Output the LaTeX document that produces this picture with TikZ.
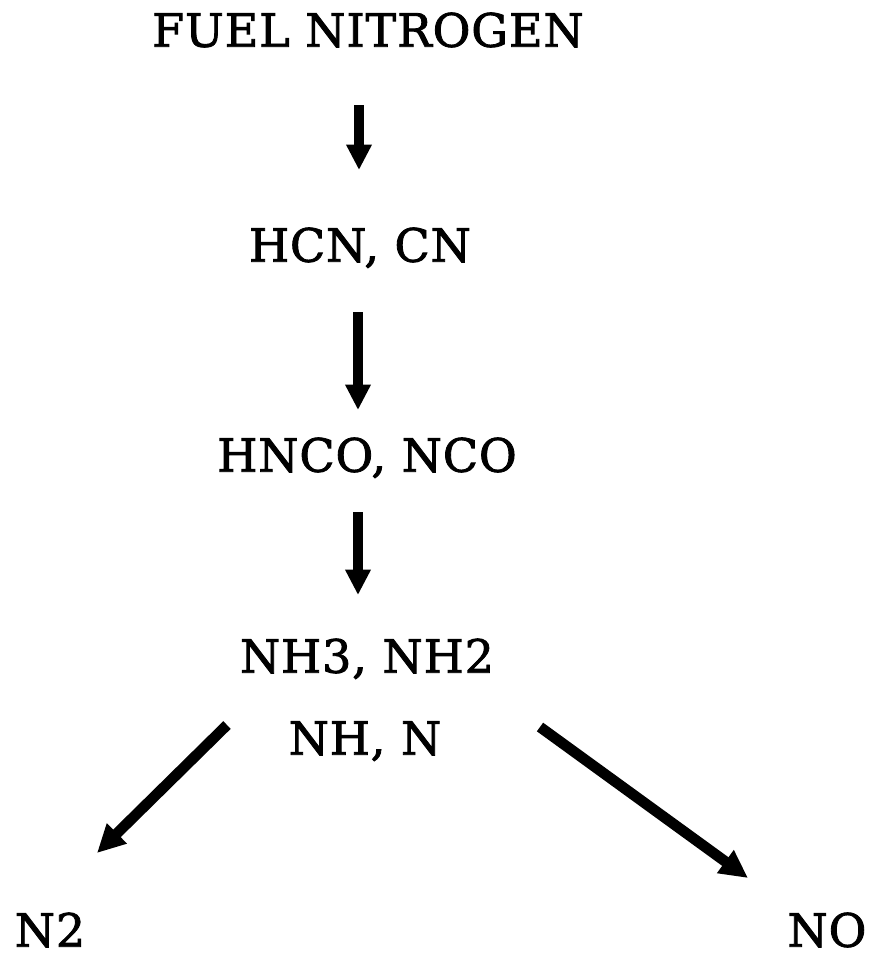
\documentclass[tikz,border=0pt]{standalone}
\usepackage{fontspec}
\setmainfont{DejaVu Serif}
\newfontfamily\lblfont{DejaVu Serif}[FakeBold=1.8,LetterSpace=2]
\usetikzlibrary{arrows.meta}
\begin{document}
\begin{tikzpicture}[x=0.75pt,y=-0.75pt,
  lbl/.style={inner sep=0pt,text height=25pt,text depth=0pt,anchor=south,font=\lblfont\fontsize{34.5}{40}\selectfont},
  arr/.style={line width=7.5pt,-{Triangle[length=19pt,width=18pt]}},
  darr/.style={line width=8pt,-{Triangle[length=21pt,width=20pt]}}]
\useasboundingbox (0,0) rectangle (873,957);
\node[lbl] (fuel) at (368,47) {FUEL NITROGEN};
\node[lbl] (hcn) at (360,262) {HCN, CN};
\node[lbl] (hnco) at (367,472) {HNCO, NCO};
\node[lbl] (nh3) at (367,673) {NH3, NH2};
\node[lbl] (nh) at (365,755) {NH, N};
\node[lbl] (n2) at (50,947) {N2};
\node[lbl] (no) at (827,947) {NO};
\coordinate (a1s) at (359,105); \coordinate (a1e) at (359,170);
\coordinate (a2s) at (358,312); \coordinate (a2e) at (358,410);
\coordinate (a3s) at (358,512); \coordinate (a3e) at (358,595);
\coordinate (ls) at (227,725); \coordinate (le) at (97,853);
\coordinate (rs) at (540,727); \coordinate (re) at (748,878);
\draw[arr] (a1s) -- (a1e);
\draw[arr] (a2s) -- (a2e);
\draw[arr] (a3s) -- (a3e);
\draw[darr] (ls) -- (le);
\draw[darr] (rs) -- (re);
\end{tikzpicture}
\end{document}
